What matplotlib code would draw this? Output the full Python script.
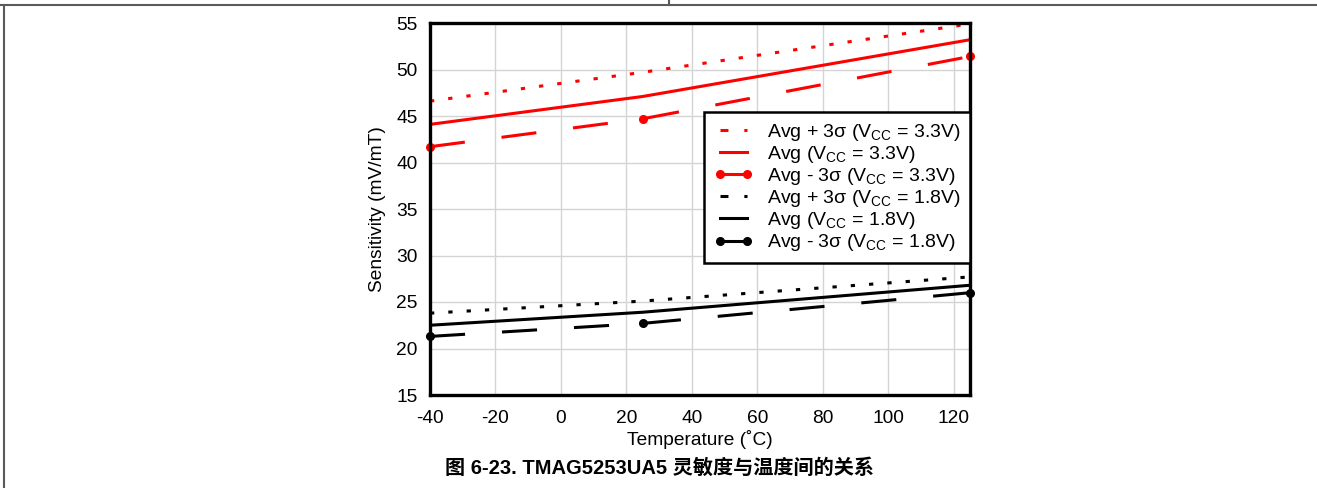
import matplotlib.pyplot as plt
from matplotlib.lines import Line2D

plt.rcParams['font.family'] = ['Liberation Sans', 'DejaVu Sans']
plt.rcParams['mathtext.fontset'] = 'custom'
plt.rcParams['mathtext.rm'] = 'Liberation Sans'
plt.rcParams['axes.unicode_minus'] = False

temp = [-40, 25, 125]

# sensitivity, mV/mT
vcc33_plus = [46.6, 49.7, 54.9]
vcc33_avg = [44.1, 47.1, 53.2]
vcc33_minus = [41.7, 44.7, 51.4]
vcc18_plus = [23.8, 25.1, 27.7]
vcc18_avg = [22.5, 23.9, 26.8]
vcc18_minus = [21.3, 22.7, 26.0]

labels = [
    r'Avg + 3σ (V$_{\rm CC}$ = 3.3V)',
    r'Avg (V$_{\rm CC}$ = 3.3V)',
    r'Avg - 3σ (V$_{\rm CC}$ = 3.3V)',
    r'Avg + 3σ (V$_{\rm CC}$ = 1.8V)',
    r'Avg (V$_{\rm CC}$ = 1.8V)',
    r'Avg - 3σ (V$_{\rm CC}$ = 1.8V)',
]

xticks = [-40, -20, 0, 20, 40, 60, 80, 100, 120]
yticks = [15, 20, 25, 30, 35, 40, 45, 50, 55]

fs = 13.8

fig = plt.figure(figsize=(13.17, 4.88), dpi=100)
ax = fig.add_axes([430 / 1317, 1 - 395 / 488, 540 / 1317, 372 / 488])

lw = 2.2
dot = (0, (1.4, 4.6))
longdash = (0, (11.5, 12.1))

for col, plus, avg, minus in [('#ff0000', vcc33_plus, vcc33_avg, vcc33_minus),
                              ('black', vcc18_plus, vcc18_avg, vcc18_minus)]:
    ax.plot(temp, plus, color=col, lw=lw, linestyle=dot, dash_capstyle='butt')
    ax.plot(temp, avg, color=col, lw=lw)
    ax.plot(temp, minus, color=col, lw=lw, linestyle=longdash,
            dash_capstyle='butt', marker='o', ms=5.5, clip_on=False)

ax.set_xlim(-40, 125)
ax.set_ylim(15, 55)
ax.set_xticks(xticks)
ax.set_yticks(yticks)
ax.tick_params(length=0, labelsize=fs, colors='black')
ax.tick_params(axis='x', pad=11)
ax.tick_params(axis='y', pad=9)
ax.grid(True, color='#d4d4d4', lw=1)
ax.set_axisbelow(True)
for s in ax.spines.values():
    s.set_linewidth(2.4)
    s.set_color('black')

ax.set_xlabel('Temperature (˚C)', fontsize=fs, labelpad=2)
ax.set_ylabel('Sensitivity (mV/mT)', fontsize=fs, labelpad=7)

# legend handles drawn separately so the dotted series show as short dashes
short = (0, (2.6, 5.2))
handles = []
for col in ['#ff0000', 'black']:
    handles.append(Line2D([], [], color=col, lw=lw, linestyle=short,
                          dash_capstyle='butt'))
    handles.append(Line2D([], [], color=col, lw=lw))
    handles.append(Line2D([], [], color=col, lw=lw, marker='o', ms=5.5))

leg = ax.legend(handles, labels, loc='upper right', bbox_to_anchor=(1.0, 0.761),
                borderaxespad=0, fontsize=14, fancybox=False, framealpha=1,
                edgecolor='black', handlelength=2.0, handletextpad=0.7,
                labelspacing=0.06, borderpad=0.5, numpoints=2)
leg.get_frame().set_linewidth(1.8)

fig.text(0.501, 1 - 468 / 488, '图 6-23. TMAG5253UA5 灵敏度与温度间的关系',
         ha='center', va='center', fontsize=14.5, fontweight='bold',
         family=['Liberation Sans', 'Noto Sans CJK SC'])

# page frame
frame = '#5a5a5a'
fig.add_artist(Line2D([0, 1], [1 - 5 / 488, 1 - 5 / 488], color=frame, lw=1.5))
fig.add_artist(Line2D([4 / 1317, 4 / 1317], [0, 1 - 5 / 488], color=frame, lw=1.5))
fig.add_artist(Line2D([669 / 1317, 669 / 1317], [1 - 5 / 488, 1], color=frame, lw=1.5))

fig.savefig('out.png', dpi=100)
